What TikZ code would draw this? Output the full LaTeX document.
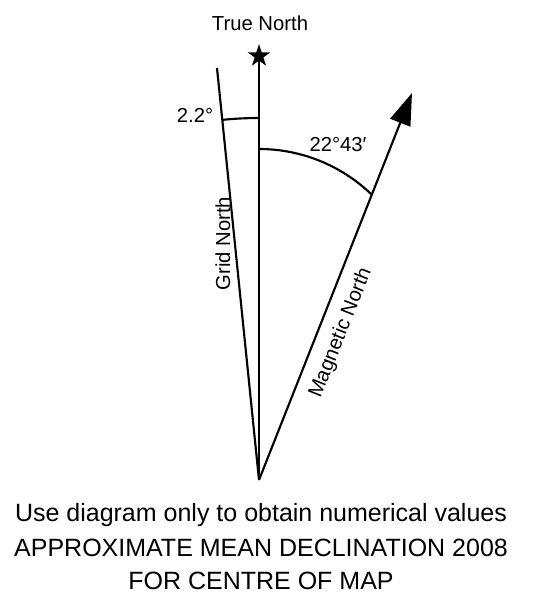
\documentclass[tikz,border=0pt]{standalone}
\usepackage{fontspec}
\setmainfont{Liberation Sans}
\usetikzlibrary{arrows.meta,shapes.geometric}

\begin{document}
\begin{tikzpicture}[x=0.75pt, y=0.75pt, line width=1.6pt, font=\fontsize{15.2}{18}\selectfont]
	  \useasboundingbox (0,0) rectangle (556,614);
	  % the three norths
	  \coordinate (origin) at (259,134);
	  \node[star, star points=5, star point ratio=2.6, fill, inner sep=0pt, minimum size=18pt] (truetip) at (259,558) {};
	  \coordinate (gridtip) at (217,546);
	  \coordinate (magtip) at (412,521);
	  \draw (origin) -- (truetip.center);
	  \draw (origin) -- (gridtip);
	  \draw[-{Triangle[length=24pt, width=16pt]}] (origin) -- (magtip);
	  % angles
	  \draw (259,496) arc[start angle=90, end angle=95.8, radius=362];
	  \draw (259,465) arc[start angle=90, end angle=46.2, radius=162];
	  \node[anchor=base] (truelabel) at (260,583) {True North};
	  \node[anchor=base] (gridangle) at (195,491) {2.2°};
	  \node[anchor=base] (magangle) at (338,462) {22°43′};
	  \node[rotate=90] (gridlabel) at (223,370.5) {Grid North};
	  \node[rotate=68.3] (maglabel) at (341,281) {Magnetic North};
	  % caption
	  \node[anchor=base, font=\fontsize{18.75}{24}\selectfont] (caption1) at (261,92.3) {Use diagram only to obtain numerical values};
	  \node[anchor=base, font=\fontsize{18.75}{24}\selectfont] (caption2) at (261,57.5) {APPROXIMATE MEAN DECLINATION 2008};
	  \node[anchor=base, font=\fontsize{18.75}{24}\selectfont] (caption3) at (261,24) {FOR CENTRE OF MAP};
	\end{tikzpicture}
\end{document}
